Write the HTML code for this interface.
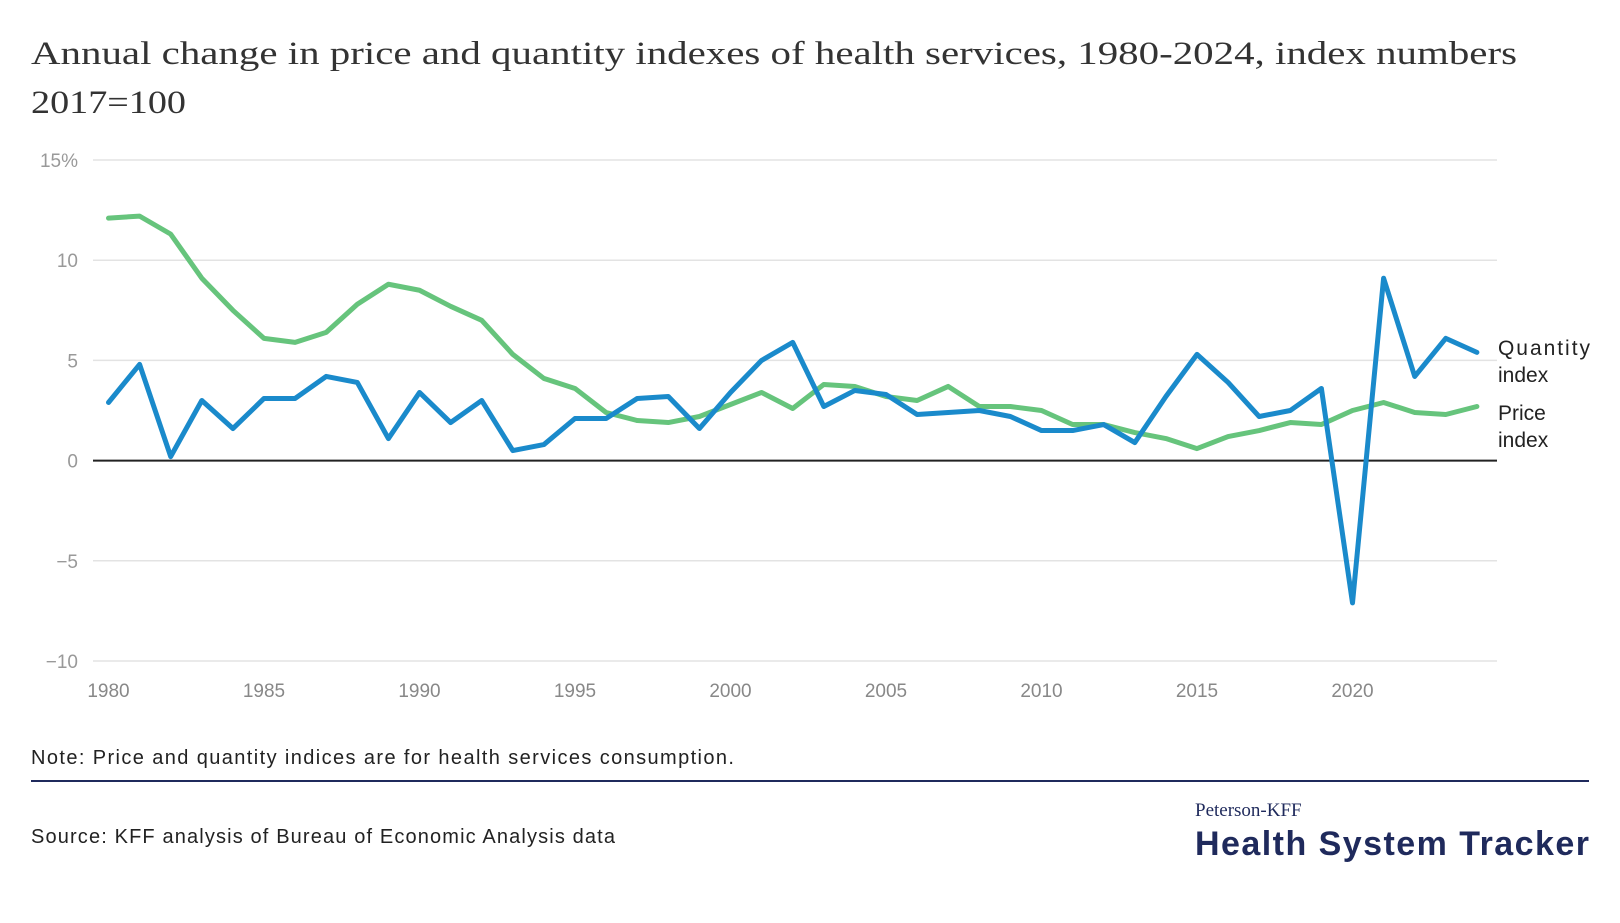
<!DOCTYPE html>
<html><head><meta charset="utf-8"><style>
body{margin:0;background:#fff;width:1620px;height:918px;overflow:hidden;font-family:"Liberation Sans",sans-serif}
</style></head><body>
<svg width="1620" height="918">
<text x="31" y="64" font-family="Liberation Serif,serif" font-size="33" fill="#333" textLength="1486" lengthAdjust="spacingAndGlyphs">Annual change in price and quantity indexes of health services, 1980-2024, index numbers</text>
<text x="31" y="113" font-family="Liberation Serif,serif" font-size="33" fill="#333" textLength="155" lengthAdjust="spacingAndGlyphs">2017=100</text>
<g id="grid"></g><g id="lines"></g>
<text x="1498" y="355" font-size="21" fill="#222" textLength="92">Quantity</text>
<text x="1498" y="382" font-size="21" fill="#222">index</text>
<text x="1498" y="420" font-size="21" fill="#222">Price</text>
<text x="1498" y="447" font-size="21" fill="#222">index</text>
<text x="31" y="764" font-size="20" fill="#222" textLength="703">Note: Price and quantity indices are for health services consumption.</text>
<rect x="31" y="780" width="1558" height="2" fill="#1f2a5c"/>
<text x="31" y="843" font-size="20" fill="#222" textLength="584">Source: KFF analysis of Bureau of Economic Analysis data</text>
<text x="1195" y="816" font-family="Liberation Serif,serif" font-size="19" fill="#1f2a5c">Peterson-KFF</text>
<text x="1195" y="855" font-size="34" font-weight="bold" fill="#1f2a5c" textLength="394">Health System Tracker</text>
</svg>
<script>
const years=[];for(let y=1980;y<=2024;y++)years.push(y);
const quantity=[2.9,4.8,0.2,3.0,1.6,3.1,3.1,4.2,3.9,1.1,3.4,1.9,3.0,0.5,0.8,2.1,2.1,3.1,3.2,1.6,3.4,5.0,5.9,2.7,3.5,3.3,2.3,2.4,2.5,2.2,1.5,1.5,1.8,0.9,3.2,5.3,3.9,2.2,2.5,3.6,-7.1,9.1,4.2,6.1,5.4];
const price=[12.1,12.2,11.3,9.1,7.5,6.1,5.9,6.4,7.8,8.8,8.5,7.7,7.0,5.3,4.1,3.6,2.4,2.0,1.9,2.2,2.8,3.4,2.6,3.8,3.7,3.2,3.0,3.7,2.7,2.7,2.5,1.8,1.8,1.4,1.1,0.6,1.2,1.5,1.9,1.8,2.5,2.9,2.4,2.3,2.7];
const yTicks=[15,10,5,0,-5,-10];
const yTickLabels=["15%","10","5","0","\u22125","\u221210"];
const xTicks=[1980,1985,1990,1995,2000,2005,2010,2015,2020];
const NS="http://www.w3.org/2000/svg";
const X=v=>108.5+(v-1980)*31.1;
const Y=v=>460.6-v*20.04;
const grid=document.getElementById('grid'),lines=document.getElementById('lines');
function mk(t,a,p){const e=document.createElementNS(NS,t);for(const k in a)e.setAttribute(k,a[k]);p.appendChild(e);return e;}
yTicks.forEach((t,i)=>{
 const l=mk('line',{x1:93,x2:1497,y1:Y(t),y2:Y(t),stroke:t===0?'#222':'#e3e3e3','stroke-width':t===0?2:1.5},grid);
 
 
 const tx=mk('text',{x:78,y:Y(t)+7,'text-anchor':'end','font-size':19,fill:'#999'},grid);
 tx.textContent=yTickLabels[i];
 
 
});
xTicks.forEach(t=>{
 const tx=mk('text',{x:X(t),y:697,'text-anchor':'middle','font-size':19,fill:'#888'},grid);
 tx.textContent=t;
 
 
});
function line(vals,color,name){
 const p=mk('polyline',{points:vals.map((v,i)=>X(years[i])+','+Y(v)).join(' '),fill:'none',stroke:color,'stroke-width':5,'stroke-linejoin':'round','stroke-linecap':'round'},lines);
 
 
}
line(price,'#66c47c','price-index-line');
line(quantity,'#1a8acb','quantity-index-line');
</script>
</body></html>
